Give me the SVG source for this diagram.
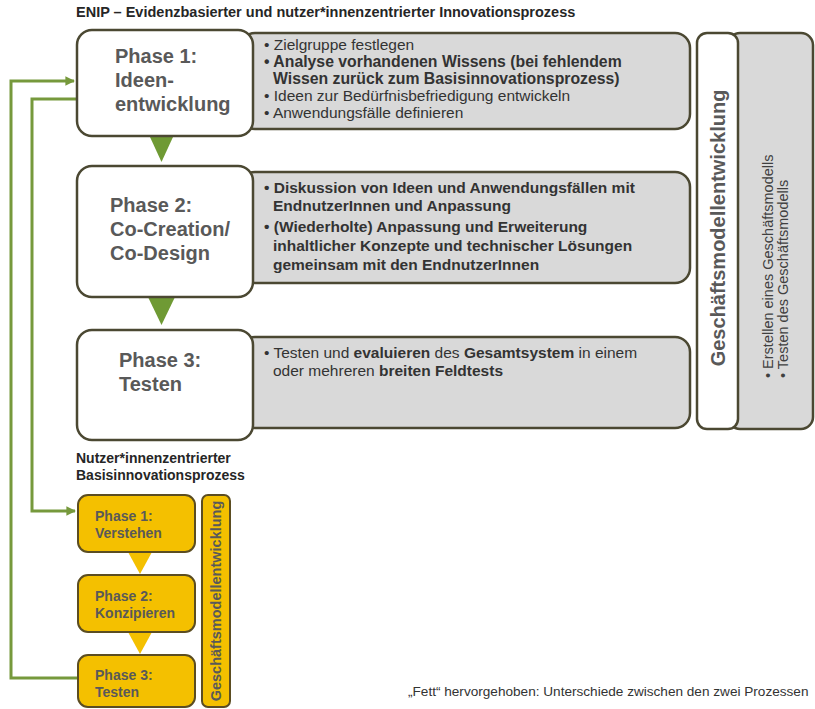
<svg xmlns="http://www.w3.org/2000/svg" width="815" height="709" viewBox="0 0 815 709">
  <defs>
    <style>
      .heading { font-family: "Liberation Sans", Arial, sans-serif; font-weight: bold; font-size: 14px; fill: #262626; }
      .phase { font-family: "Liberation Sans", Arial, sans-serif; font-weight: bold; font-size: 20px; fill: #595959; }
      .body { font-family: "Liberation Sans", Arial, sans-serif; font-size: 15.5px; fill: #333333; }
      .b { font-weight: bold; }
      .white { fill: #ffffff; stroke: #4b4832; stroke-width: 2.5; }
      .grey { fill: #d9d9d9; stroke: #4b4832; stroke-width: 2.5; }
      .yellow { fill: #f4c000; stroke: #5b4d22; stroke-width: 2; }
      .yphase { font-family: "Liberation Sans", Arial, sans-serif; font-weight: bold; font-size: 14px; fill: #595959; }
      .gmtitle { font-family: "Liberation Sans", Arial, sans-serif; font-weight: bold; font-size: 20px; fill: #595959; }
      .gmlist { font-family: "Liberation Sans", Arial, sans-serif; font-size: 14.5px; fill: #404040; }
      .link { fill: none; stroke: #76993c; stroke-width: 3; }
      .note { font-family: "Liberation Sans", Arial, sans-serif; font-size: 13.6px; fill: #333333; }
    </style>
    <marker id="arrow" viewBox="0 0 10 10" refX="9" refY="5" markerWidth="3.2" markerHeight="3.2" orient="auto" markerUnits="strokeWidth">
      <path d="M0,0 L10,5 L0,10 z" fill="#76993c"/>
    </marker>
  </defs>

  <rect width="815" height="709" fill="#ffffff"/>

  <!-- headings -->
  <text class="heading" style="font-size:14.5px" x="76" y="17">ENIP – Evidenzbasierter und nutzer*innenzentrierter Innovationsprozess</text>
  <text class="heading" x="76" y="463">Nutzer*innenzentrierter</text>
  <text class="heading" x="76" y="480">Basisinnovationsprozess</text>

  <!-- connectors -->
  <g id="connectors">
    <polyline class="link" points="80,678 11,678 11,81 74,81" marker-end="url(#arrow)"/>
    <polyline class="link" points="77,99 32,99 32,511 75,511" marker-end="url(#arrow)"/>
    <polygon points="150,137 173,137 161.5,162" fill="#6f9a34"/>
    <polygon points="148,297 175,297 161.5,325" fill="#6f9a34"/>
    <polygon points="128,552 152,552 140,574" fill="#f4c000"/>
    <polygon points="128,632 152,632 140,654" fill="#f4c000"/>
  </g>

  <!-- ENIP phase 1 -->
  <g id="enip-phase1">
    <rect class="grey" x="240" y="33" width="450" height="96" rx="15"/>
    <rect class="white" x="77" y="30" width="176" height="106" rx="15"/>
    <text class="phase" x="115" y="63">Phase 1:</text>
    <text class="phase" x="115" y="87">Ideen-</text>
    <text class="phase" x="115" y="111">entwicklung</text>
    <text class="body" x="264" y="50">• Zielgruppe festlegen</text>
    <text class="body b" style="font-size:15.8px" x="264" y="67">• Analyse vorhandenen Wissens (bei fehlendem</text>
    <text class="body b" style="font-size:15.8px" x="273" y="84">Wissen zurück zum Basisinnovationsprozess)</text>
    <text class="body" x="264" y="101">• Ideen zur Bedürfnisbefriedigung entwickeln</text>
    <text class="body" x="264" y="118">• Anwendungsfälle definieren</text>
  </g>

  <!-- ENIP phase 2 -->
  <g id="enip-phase2">
    <rect class="grey" x="240" y="172" width="450" height="111" rx="15"/>
    <rect class="white" x="77" y="166" width="176" height="131" rx="15"/>
    <text class="phase" x="110" y="212">Phase 2:</text>
    <text class="phase" x="110" y="236">Co-Creation/</text>
    <text class="phase" x="110" y="260">Co-Design</text>
    <text class="body b" x="264" y="193">• Diskussion von Ideen und Anwendungsfällen mit</text>
    <text class="body b" x="273" y="211">EndnutzerInnen und Anpassung</text>
    <text class="body b" x="264" y="232">• (Wiederholte) Anpassung und Erweiterung</text>
    <text class="body b" x="273" y="251">inhaltlicher Konzepte und technischer Lösungen</text>
    <text class="body b" x="273" y="270">gemeinsam mit den EndnutzerInnen</text>
  </g>

  <!-- ENIP phase 3 -->
  <g id="enip-phase3">
    <rect class="grey" x="240" y="337" width="450" height="91" rx="15"/>
    <rect class="white" x="77" y="330" width="176" height="110" rx="15"/>
    <text class="phase" x="119" y="367">Phase 3:</text>
    <text class="phase" x="119" y="391">Testen</text>
    <text class="body" x="264" y="358">• Testen und <tspan class="b">evaluieren</tspan> des <tspan class="b">Gesamtsystem</tspan> in einem</text>
    <text class="body" x="273" y="376">oder mehreren <tspan class="b">breiten Feldtests</tspan></text>
  </g>

  <!-- business model development column -->
  <g id="enip-business-model">
    <rect class="grey" x="728" y="33" width="85" height="396" rx="12"/>
    <rect class="white" x="697" y="33" width="41" height="396" rx="10"/>
    <text class="gmtitle" transform="translate(725,228) rotate(-90)" text-anchor="middle">Geschäftsmodellentwicklung</text>
    <text class="gmlist" transform="translate(773,378) rotate(-90)">• Erstellen eines Geschäftsmodells</text>
    <text class="gmlist" transform="translate(788,378) rotate(-90)">• Testen des Geschäftsmodells</text>
  </g>

  <!-- basic innovation process -->
  <g id="basis-phase1">
    <rect class="yellow" x="78" y="495" width="117" height="57" rx="10"/>
    <text class="yphase" x="95" y="521">Phase 1:</text>
    <text class="yphase" x="95" y="538">Verstehen</text>
  </g>
  <g id="basis-phase2">
    <rect class="yellow" x="78" y="575" width="117" height="57" rx="10"/>
    <text class="yphase" x="95" y="601">Phase 2:</text>
    <text class="yphase" x="95" y="618">Konzipieren</text>
  </g>
  <g id="basis-phase3">
    <rect class="yellow" x="78" y="655" width="117" height="52" rx="10"/>
    <text class="yphase" x="95" y="680">Phase 3:</text>
    <text class="yphase" x="95" y="697">Testen</text>
  </g>
  <g id="basis-business-model">
    <rect class="yellow" x="202" y="495" width="28" height="212" rx="6"/>
    <text class="yphase" style="font-size:14.5px" transform="translate(221,601) rotate(-90)" text-anchor="middle">Geschäftsmodellentwicklung</text>
  </g>

  <!-- note -->
  <text class="note" x="408" y="696">„Fett“ hervorgehoben: Unterschiede zwischen den zwei Prozessen</text>
</svg>
